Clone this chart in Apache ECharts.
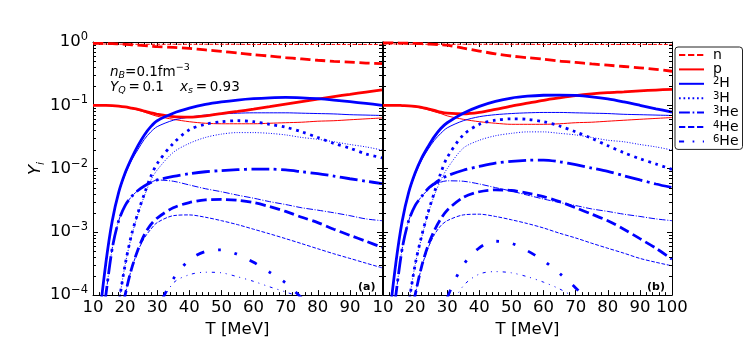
<!DOCTYPE html>
<html>
<head>
<meta charset="utf-8">
<script src="https://cdn.jsdelivr.net/npm/echarts@6/dist/echarts.min.js"></script>
<style>
html, body { margin: 0; padding: 0; background: #fff; }
#chart { width: 747px; height: 343px; }
</style>
</head>
<body>
<div id="chart"></div>
<script>
// temperature grid [MeV]
const T = [10, 12, 14, 16, 18, 20, 22, 24, 26, 28, 30, 35, 40, 45, 50, 55, 60, 65, 70, 75, 80, 85, 90, 95, 100]

// panel (a): thick lines and thin lines
const nA = [0.95, 0.95, 0.945, 0.94, 0.93, 0.92, 0.905, 0.89, 0.875, 0.86, 0.845, 0.82, 0.79, 0.75, 0.71, 0.67, 0.63, 0.6, 0.565, 0.54, 0.515, 0.495, 0.48, 0.465, 0.455]
const nAThin = [0.93, 0.93, 0.93, 0.93, 0.925, 0.925, 0.92, 0.92, 0.92, 0.92, 0.92, 0.92, 0.92, 0.92, 0.92, 0.92, 0.915, 0.915, 0.915, 0.915, 0.915, 0.915, 0.915, 0.915, 0.915]
const pA = [0.1, 0.1, 0.1, 0.099, 0.097, 0.094, 0.09, 0.086, 0.081, 0.076, 0.072, 0.066, 0.065, 0.068, 0.074, 0.08, 0.087, 0.095, 0.104, 0.114, 0.125, 0.137, 0.149, 0.162, 0.175]
const pAThin = [0.1, 0.1, 0.1, 0.099, 0.097, 0.093, 0.089, 0.084, 0.078, 0.072, 0.067, 0.06, 0.055, 0.052, 0.051, 0.051, 0.051, 0.052, 0.053, 0.054, 0.056, 0.057, 0.059, 0.061, 0.063]
const h2A = [1.5e-6, 4e-5, 3.2e-4, 1.5e-3, 4.2e-3, 8.5e-3, 0.0145, 0.023, 0.034, 0.046, 0.057, 0.075, 0.09, 0.103, 0.113, 0.121, 0.127, 0.131, 0.133, 0.131, 0.127, 0.121, 0.114, 0.107, 0.1]
const h2AThin = [1.5e-6, 4e-5, 3.2e-4, 1.5e-3, 4.1e-3, 8e-3, 0.0135, 0.02, 0.029, 0.038, 0.046, 0.058, 0.065, 0.07, 0.073, 0.075, 0.076, 0.076, 0.076, 0.075, 0.074, 0.073, 0.071, 0.07, 0.069]
const h3A = [1e-6, 2e-6, 4e-6, 1e-5, 7e-5, 3e-4, 9e-4, 2e-3, 4e-3, 7.5e-3, 0.012, 0.025, 0.041, 0.05, 0.055, 0.057, 0.055, 0.05, 0.045, 0.038, 0.031, 0.025, 0.021, 0.017, 0.0148]
const h3AThin = [1e-6, 2e-6, 4e-6, 1e-5, 7e-5, 3e-4, 8.5e-4, 1.9e-3, 3.7e-3, 6.5e-3, 0.0095, 0.018, 0.025, 0.031, 0.035, 0.037, 0.037, 0.036, 0.034, 0.031, 0.029, 0.0265, 0.024, 0.022, 0.0196]
const he3A = [1e-6, 1.5e-5, 1e-4, 5.5e-4, 1.5e-3, 2.6e-3, 3.6e-3, 4.5e-3, 5.3e-3, 6e-3, 6.6e-3, 7.5e-3, 8.3e-3, 8.9e-3, 9.3e-3, 9.6e-3, 9.8e-3, 9.8e-3, 9.5e-3, 8.9e-3, 8.3e-3, 7.6e-3, 6.9e-3, 6.3e-3, 5.8e-3]
const he3AThin = [1e-6, 1.5e-5, 1e-4, 5.5e-4, 1.5e-3, 2.6e-3, 3.6e-3, 4.5e-3, 5.3e-3, 6e-3, 6.6e-3, 6.3e-3, 5.5e-3, 4.8e-3, 4.3e-3, 3.8e-3, 3.4e-3, 3e-3, 2.7e-3, 2.4e-3, 2.2e-3, 2e-3, 1.8e-3, 1.6e-3, 1.5e-3]
const he4A = [1e-7, 1e-7, 1e-6, 4e-6, 3e-5, 1e-4, 2.6e-4, 5.2e-4, 9e-4, 1.3e-3, 1.65e-3, 2.4e-3, 2.9e-3, 3.2e-3, 3.25e-3, 3.15e-3, 2.9e-3, 2.5e-3, 2.1e-3, 1.7e-3, 1.4e-3, 1.1e-3, 8.8e-4, 7.1e-4, 5.7e-4]
const he4AThin = [1e-7, 1e-7, 1e-6, 4e-6, 3e-5, 1e-4, 2.6e-4, 5e-4, 8e-4, 1.1e-3, 1.4e-3, 1.8e-3, 1.85e-3, 1.7e-3, 1.5e-3, 1.3e-3, 1.1e-3, 9.3e-4, 7.8e-4, 6.5e-4, 5.4e-4, 4.5e-4, 3.8e-4, 3.2e-4, 2.7e-4]
const he6A = [1e-8, 1e-8, 1e-8, 1e-8, 1e-8, 1e-7, 5e-7, 2e-6, 5e-6, 2e-5, 5.5e-5, 1.8e-4, 3.6e-4, 4.9e-4, 5.2e-4, 4.4e-4, 3.3e-4, 2.3e-4, 1.55e-4, 9e-5, 5e-5, 2.5e-5, 1e-5, 4e-6, 1.5e-6]
const he6AThin = [1e-8, 1e-8, 1e-8, 1e-8, 1e-8, 1e-7, 5e-7, 2e-6, 5e-6, 2e-5, 5.5e-5, 1.55e-4, 2.1e-4, 2.3e-4, 2.25e-4, 1.95e-4, 1.65e-4, 1.35e-4, 1.12e-4, 9e-5, 6e-5, 3e-5, 1.5e-5, 7e-6, 3e-6]

// panel (b)
const nB = [0.97, 0.97, 0.965, 0.96, 0.955, 0.95, 0.94, 0.93, 0.92, 0.905, 0.89, 0.8, 0.72, 0.65, 0.6, 0.565, 0.535, 0.5, 0.475, 0.45, 0.43, 0.41, 0.39, 0.37, 0.345]
const nBThin = [0.93, 0.93, 0.93, 0.93, 0.925, 0.925, 0.92, 0.92, 0.92, 0.92, 0.92, 0.92, 0.92, 0.92, 0.92, 0.92, 0.915, 0.915, 0.915, 0.915, 0.915, 0.915, 0.915, 0.915, 0.915]
const pB = [0.1, 0.1, 0.1, 0.099, 0.098, 0.096, 0.093, 0.088, 0.083, 0.078, 0.075, 0.073, 0.077, 0.086, 0.097, 0.108, 0.12, 0.131, 0.142, 0.151, 0.158, 0.163, 0.169, 0.174, 0.179]
const pBThin = [0.1, 0.1, 0.1, 0.099, 0.097, 0.094, 0.09, 0.085, 0.079, 0.074, 0.068, 0.06, 0.055, 0.052, 0.05, 0.05, 0.05, 0.051, 0.053, 0.054, 0.056, 0.058, 0.06, 0.062, 0.064]
const h2B = [1.5e-6, 4e-5, 3.2e-4, 1.5e-3, 4.2e-3, 8.5e-3, 0.0145, 0.022, 0.032, 0.043, 0.053, 0.075, 0.096, 0.115, 0.13, 0.139, 0.144, 0.145, 0.143, 0.136, 0.126, 0.113, 0.1, 0.088, 0.078]
const h2BThin = [1.5e-6, 4e-5, 3.2e-4, 1.5e-3, 4.1e-3, 8e-3, 0.0135, 0.02, 0.028, 0.036, 0.044, 0.057, 0.066, 0.071, 0.074, 0.076, 0.077, 0.077, 0.076, 0.075, 0.074, 0.072, 0.071, 0.07, 0.069]
const h3B = [1e-6, 2e-6, 4e-6, 1e-5, 7e-5, 3e-4, 8.5e-4, 2e-3, 4.2e-3, 8.5e-3, 0.015, 0.034, 0.05, 0.058, 0.061, 0.06, 0.055, 0.047, 0.038, 0.03, 0.023, 0.0178, 0.0143, 0.0118, 0.0097]
const h3BThin = [1e-6, 2e-6, 4e-6, 1e-5, 7e-5, 3e-4, 8e-4, 1.9e-3, 3.8e-3, 6.5e-3, 0.01, 0.021, 0.028, 0.033, 0.036, 0.038, 0.038, 0.036, 0.034, 0.031, 0.028, 0.0265, 0.024, 0.022, 0.0196]
const he3B = [1e-6, 1.5e-5, 1e-4, 5.5e-4, 1.5e-3, 2.6e-3, 3.6e-3, 4.8e-3, 5.8e-3, 6.8e-3, 7.7e-3, 9.4e-3, 0.0108, 0.0122, 0.013, 0.0135, 0.0136, 0.0128, 0.0115, 0.0102, 0.009, 0.0077, 0.0066, 0.0057, 0.005]
const he3BThin = [1e-6, 1.5e-5, 1e-4, 5.5e-4, 1.5e-3, 2.6e-3, 3.6e-3, 4.6e-3, 5.5e-3, 6.1e-3, 6.4e-3, 6.3e-3, 5.7e-3, 5e-3, 4.4e-3, 3.8e-3, 3.3e-3, 2.9e-3, 2.6e-3, 2.3e-3, 2.1e-3, 1.9e-3, 1.75e-3, 1.6e-3, 1.5e-3]
const he4B = [1e-7, 1e-7, 1e-6, 4e-6, 3e-5, 1e-4, 2.8e-4, 6e-4, 1.05e-3, 1.6e-3, 2.2e-3, 3.5e-3, 4.3e-3, 4.6e-3, 4.5e-3, 4.1e-3, 3.6e-3, 3e-3, 2.4e-3, 1.9e-3, 1.5e-3, 1.1e-3, 7.8e-4, 5.5e-4, 3.7e-4]
const he4BThin = [1e-7, 1e-7, 1e-6, 4e-6, 3e-5, 1e-4, 2.7e-4, 5.5e-4, 9e-4, 1.25e-3, 1.5e-3, 1.85e-3, 1.9e-3, 1.75e-3, 1.55e-3, 1.35e-3, 1.15e-3, 9.5e-4, 8e-4, 6.6e-4, 5.5e-4, 4.6e-4, 3.8e-4, 3.3e-4, 2.9e-4]
const he6B = [1e-8, 1e-8, 1e-8, 1e-8, 1e-8, 1e-7, 5e-7, 2e-6, 1e-5, 3.5e-5, 9e-5, 3e-4, 5.6e-4, 7.1e-4, 6.6e-4, 5e-4, 3.5e-4, 2.2e-4, 1.3e-4, 7e-5, 3.5e-5, 1.5e-5, 6e-6, 2e-6, 1e-6]
const he6BThin = [1e-8, 1e-8, 1e-8, 1e-8, 1e-8, 1e-7, 5e-7, 2e-6, 8e-6, 2.5e-5, 5e-5, 1.4e-4, 2.15e-4, 2.35e-4, 2.25e-4, 1.95e-4, 1.6e-4, 1.25e-4, 9e-5, 6e-5, 3.5e-5, 1.8e-5, 8e-6, 3e-6, 1e-6]

// minor ticks of the log axis (2..9 in each decade)
const yMinor = []
for (let e = -4; e < 0; e++) {
  for (let m = 2; m <= 9; m++) yMinor.push(m * Math.pow(10, e))
}

const FONT = 'DejaVu Sans'
const RED = '#ff0000'
const BLUE = '#0000ff'

// line styles: colour, dash pattern per unit width, legend label (sup + text)
const species = [
  { name: 'n', sup: '', txt: 'n', color: RED, dash: [3.7, 1.6] },
  { name: 'p', sup: '', txt: 'p', color: RED, dash: 'solid' },
  { name: '2H', sup: '2', txt: 'H', color: BLUE, dash: 'solid' },
  { name: '3H', sup: '3', txt: 'H', color: BLUE, dash: [1, 1.65] },
  { name: '3He', sup: '3', txt: 'He', color: BLUE, dash: [6.4, 1.6, 1, 1.6] },
  { name: '4He', sup: '4', txt: 'He', color: BLUE, dash: [3.7, 1.6] },
  { name: '6He', sup: '6', txt: 'He', color: BLUE, dash: [3, 5, 1, 5, 1, 5] }
]
const panelA = [[nA, nAThin], [pA, pAThin], [h2A, h2AThin], [h3A, h3AThin], [he3A, he3AThin], [he4A, he4AThin], [he6A, he6AThin]]
const panelB = [[nB, nBThin], [pB, pBThin], [h2B, h2BThin], [h3B, h3BThin], [he3B, he3BThin], [he4B, he4BThin], [he6B, he6BThin]]

function dashFor(sp, w) {
  return sp.dash === 'solid' ? 'solid' : sp.dash.map(d => d * w)
}

function lineSeries(sp, ys, w, axis, tag) {
  return {
    name: sp.name + tag,
    type: 'line',
    xAxisIndex: axis,
    yAxisIndex: axis,
    symbol: 'none',
    smooth: 0.3,
    clip: true,
    silent: true,
    data: T.map((t, i) => [t, ys[i]]),
    lineStyle: { color: sp.color, width: w, type: dashFor(sp, w), cap: 'butt' },
    z: w > 2 ? 3 : 2
  }
}

function minorTickSeries(axis) {
  return {
    type: 'custom',
    xAxisIndex: axis,
    yAxisIndex: axis,
    silent: true,
    clip: false,
    z: 10,
    data: yMinor.map(v => [10, v]),
    encode: { x: 0, y: 1 },
    renderItem: (params, api) => {
      const v = api.value(1)
      const l = api.coord([10, v])
      const r = api.coord([100, v])
      const y = Math.round(l[1]) + 0.5
      return {
        type: 'group',
        children: [
          { type: 'line', shape: { x1: l[0], y1: y, x2: l[0] + 3, y2: y }, style: { stroke: '#000', lineWidth: 1 } },
          { type: 'line', shape: { x1: r[0] - 3, y1: y, x2: r[0], y2: y }, style: { stroke: '#000', lineWidth: 1 } }
        ]
      }
    }
  }
}

const series = []
// legend-only entries
species.forEach(sp => {
  series.push({
    name: sp.name, type: 'line', xAxisIndex: 0, yAxisIndex: 0, symbol: 'none', data: [],
    itemStyle: { color: sp.color, opacity: 0 },
    lineStyle: { color: sp.color, width: 2, type: dashFor(sp, 1.7) }
  })
})
species.forEach((sp, k) => {
  series.push(lineSeries(sp, panelA[k][0], 2.8, 0, ' a'))
  series.push(lineSeries(sp, panelA[k][1], 1, 0, ' a thin'))
  series.push(lineSeries(sp, panelB[k][0], 2.8, 2, ' b'))
  series.push(lineSeries(sp, panelB[k][1], 1, 2, ' b thin'))
})
series.push(minorTickSeries(0))
series.push(minorTickSeries(2))

function xAxisCfg(grid, pos, labels, hideMax) {
  return {
    type: 'value', gridIndex: grid, position: pos, min: 10, max: 100, interval: 10,
    axisLine: { onZero: false, lineStyle: { color: '#000', width: 1 } },
    axisTick: { inside: true, length: 5, lineStyle: { color: '#000' } },
    minorTick: { show: true, splitNumber: 5, length: 3, lineStyle: { color: '#000' } },
    splitLine: { show: false },
    axisLabel: {
      show: labels, color: '#000', fontFamily: FONT, fontSize: 16.5, margin: 4,
      showMaxLabel: !hideMax, showMinLabel: true
    },
    name: labels ? 'T [MeV]' : '',
    nameLocation: 'middle', nameGap: 24,
    nameTextStyle: { color: '#000', fontFamily: FONT, fontSize: 16.5 }
  }
}

function yAxisCfg(grid, pos, labels) {
  return {
    type: 'log', logBase: 10, gridIndex: grid, position: pos, min: 1e-4, max: 1,
    axisLine: { onZero: false, lineStyle: { color: '#000', width: 1 } },
    axisTick: { inside: true, length: 5, lineStyle: { color: '#000' } },
    splitLine: { show: false },
    axisLabel: {
      show: labels, margin: 5,
      formatter: v => {
        const e = Math.round(Math.log10(v))
        return '{b|10}{s|' + (e === 0 ? '0' : '\u2212' + (-e)) + '}'
      },
      rich: {
        b: { fontFamily: FONT, fontSize: 16.5, color: '#000', lineHeight: 22 },
        s: { fontFamily: FONT, fontSize: 11.5, color: '#000', lineHeight: 12, verticalAlign: 'top' }
      }
    },
    name: labels ? '{y|Y}{i|i}' : '',
    nameLocation: 'middle', nameGap: 46,
    nameTextStyle: {
      rich: {
        y: { fontFamily: FONT, fontSize: 16.5, fontStyle: 'italic', color: '#000', lineHeight: 20 },
        i: { fontFamily: FONT, fontSize: 11, fontStyle: 'italic', color: '#000', lineHeight: 12, verticalAlign: 'bottom' }
      }
    }
  }
}

const chart = echarts.init(document.getElementById('chart'), null, { renderer: 'canvas' })
chart.setOption({
  animation: false,
  backgroundColor: '#fff',
  grid: [
    { left: 93, top: 42, width: 289, height: 257 },
    { left: 383, top: 42, width: 289, height: 257 }
  ],
  xAxis: [
    xAxisCfg(0, 'bottom', true, true),
    xAxisCfg(0, 'top', false, false),
    xAxisCfg(1, 'bottom', true, false),
    xAxisCfg(1, 'top', false, false)
  ],
  yAxis: [
    yAxisCfg(0, 'left', true),
    yAxisCfg(0, 'right', false),
    yAxisCfg(1, 'left', false),
    yAxisCfg(1, 'right', false)
  ],
  legend: {
    data: species.map(s => s.name),
    orient: 'vertical', left: 675, top: 47,
    itemWidth: 25, itemHeight: 10, itemGap: 0.4,
    itemStyle: { opacity: 0 },
    backgroundColor: '#fff', borderColor: '#222', borderWidth: 1, borderRadius: 3,
    padding: [1, 4, 1, 3],
    formatter: name => {
      const sp = species.find(s => s.name === name)
      return '{g|}' + (sp.sup ? '{s|' + sp.sup + '}' : '') + '{t|' + sp.txt + '}'
    },
    textStyle: {
      rich: {
        g: { width: 4, lineHeight: 14 },
        s: { fontFamily: FONT, fontSize: 10, color: '#000', lineHeight: 9, verticalAlign: 'top' },
        t: { fontFamily: FONT, fontSize: 14, color: '#000', lineHeight: 14 }
      }
    },
    selectedMode: false
  },
  graphic: [
    {
      type: 'text', left: 110, top: 63,
      style: {
        text: '{it|n}{sub|B}{t|=0.1fm}{sup|\u22123}',
        rich: {
          it: { fontFamily: FONT, fontSize: 13.5, fontStyle: 'italic', fill: '#000', lineHeight: 18 },
          sub: { fontFamily: FONT, fontSize: 9.5, fontStyle: 'italic', fill: '#000', lineHeight: 10, verticalAlign: 'bottom' },
          t: { fontFamily: FONT, fontSize: 13.5, fill: '#000', lineHeight: 18 },
          sup: { fontFamily: FONT, fontSize: 9.5, fill: '#000', lineHeight: 10, verticalAlign: 'top' }
        }
      }
    },
    {
      type: 'text', left: 110, top: 80,
      style: {
        text: '{it|Y}{sub|Q}{t|\u2009=\u20090.1\u2003\u2009}{it|x}{sub|s}{t|\u2009=\u20090.93}',
        rich: {
          it: { fontFamily: FONT, fontSize: 13.5, fontStyle: 'italic', fill: '#000', lineHeight: 18 },
          sub: { fontFamily: FONT, fontSize: 9.5, fontStyle: 'italic', fill: '#000', lineHeight: 10, verticalAlign: 'bottom' },
          t: { fontFamily: FONT, fontSize: 13.5, fill: '#000', lineHeight: 18 }
        }
      }
    },
    { type: 'text', left: 358, top: 282, style: { text: '(a)', fontFamily: FONT, fontSize: 11, fontWeight: 'bold', fill: '#000' } },
    { type: 'text', left: 647, top: 282, style: { text: '(b)', fontFamily: FONT, fontSize: 11, fontWeight: 'bold', fill: '#000' } }
  ],
  series: series
})
</script>
</body>
</html>
